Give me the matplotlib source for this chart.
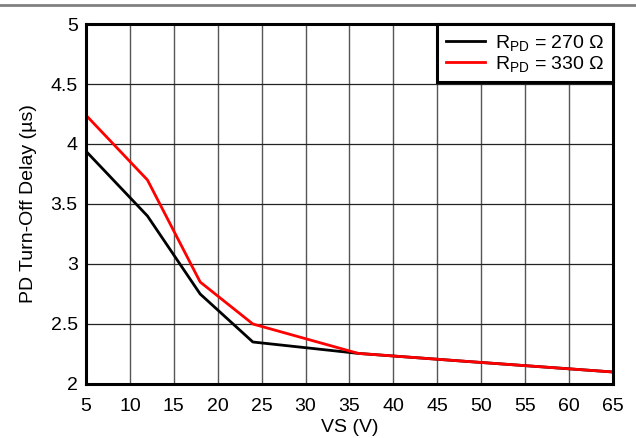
import matplotlib

matplotlib.use("Agg")
import matplotlib.pyplot as plt
from matplotlib.lines import Line2D

plt.rcParams["font.family"] = ["Liberation Sans", "DejaVu Sans"]
plt.rcParams["mathtext.fontset"] = "custom"
plt.rcParams["mathtext.rm"] = "Liberation Sans"
plt.rcParams["mathtext.it"] = "Liberation Sans"

# values
vs_270 = [5, 12, 18, 24, 36, 48, 65]
delay_270 = [3.94, 3.40, 2.75, 2.35, 2.255, 2.19, 2.10]
vs_330 = [5, 12, 18, 24, 36, 48, 65]
delay_330 = [4.24, 3.70, 2.85, 2.50, 2.255, 2.19, 2.10]

x_ticks = list(range(5, 70, 5))
y_ticks = [2, 2.5, 3, 3.5, 4, 4.5, 5]

fig = plt.figure(figsize=(6.36, 4.38), dpi=100)
ax = fig.add_axes([0.1352, 0.1233, 0.8286, 0.8219])

ax.plot(vs_270, delay_270, color="black", linewidth=2.0, label=r"R$_{\rm PD}$ = 270 Ω")
ax.plot(vs_330, delay_330, color="#ff0000", linewidth=2.0, label=r"R$_{\rm PD}$ = 330 Ω")

ax.set_xlim(5, 65)
ax.set_ylim(2, 5)
ax.set_xticks(x_ticks)
ax.set_yticks(y_ticks)
ax.set_yticklabels([f"{v:g}" for v in y_ticks])
ax.tick_params(length=0, labelsize=14)
ax.tick_params(axis="x", pad=10)
ax.tick_params(axis="y", pad=6)
ax.grid(axis="x", color="#555555", linewidth=1.0)
ax.grid(axis="y", color="#222222", linewidth=0.9)
ax.set_axisbelow(True)
for spine in ax.spines.values():
    spine.set_linewidth(2.2)
    spine.set_color("black")

ax.set_xlabel("VS (V)", fontsize=14, labelpad=3)
ax.set_ylabel("PD Turn-Off Delay (µs)", fontsize=14, labelpad=10)

leg = ax.legend(loc="upper right", fontsize=14, fancybox=False, framealpha=1,
                borderaxespad=0, handlelength=2.0, handletextpad=0.5,
                labelspacing=0.05, borderpad=0.45)
leg.get_frame().set_edgecolor("black")
leg.get_frame().set_linewidth(2.2)

fig.add_artist(Line2D([0, 1], [0.9875, 0.9875], transform=fig.transFigure,
                      color="#808080", linewidth=2.0))

fig.savefig("out.png", dpi=100)
